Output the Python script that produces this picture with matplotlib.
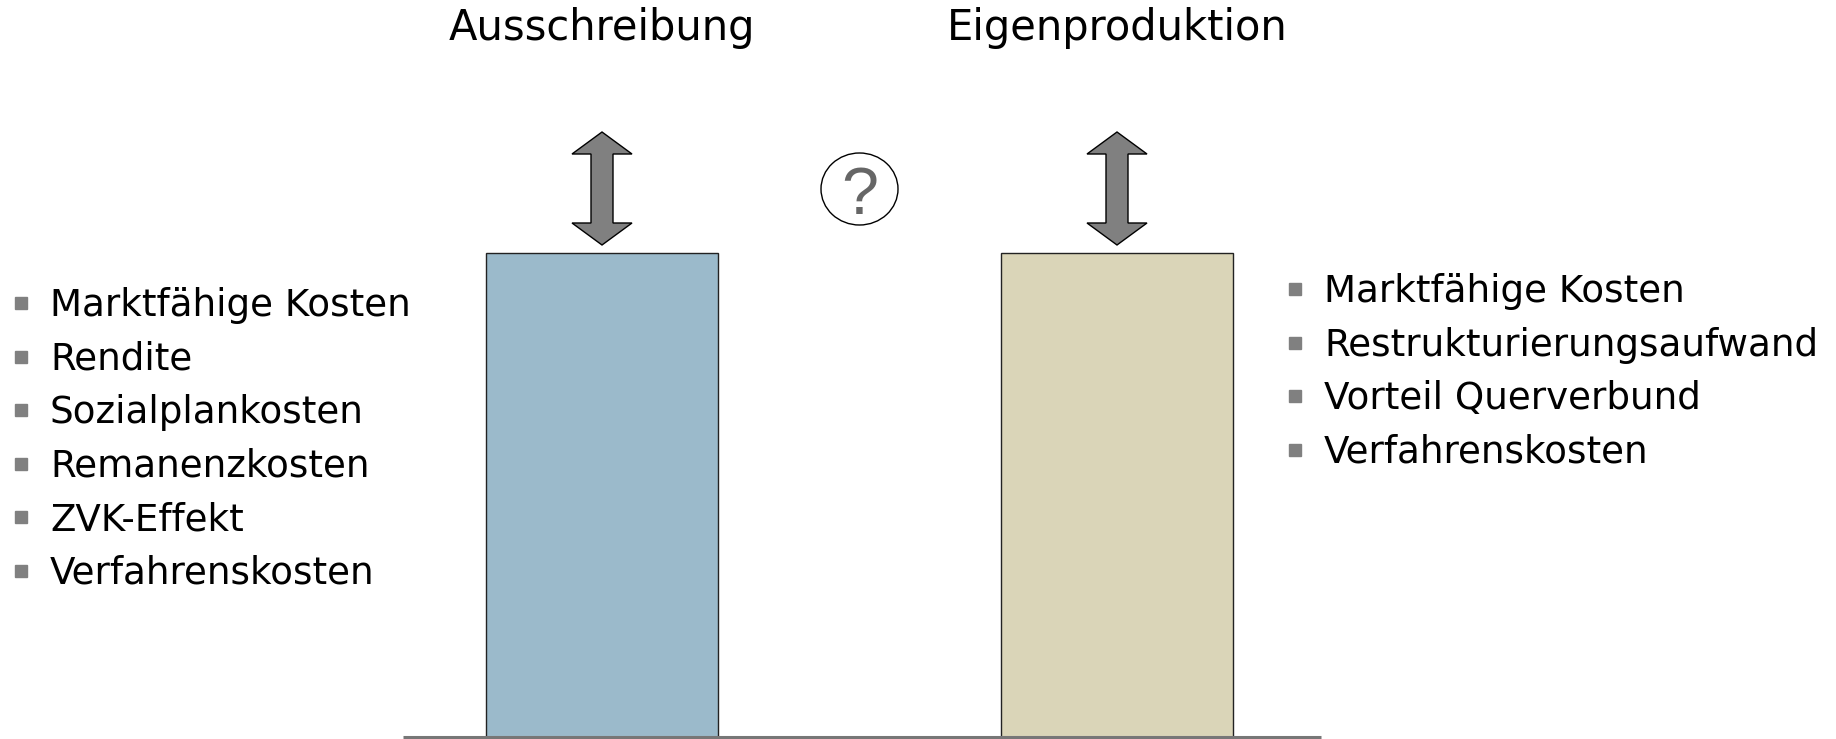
import matplotlib
matplotlib.use("Agg")
import matplotlib.pyplot as plt
from matplotlib.patches import Polygon, Ellipse

# Daten
KATEGORIEN = ["Ausschreibung", "Eigenproduktion"]
WERTE = [1.0, 1.0]
FARBEN = ["#9bbacb", "#dad5b8"]
LINKS_PUNKTE = ["Marktfähige Kosten", "Rendite", "Sozialplankosten",
                "Remanenzkosten", "ZVK-Effekt", "Verfahrenskosten"]
RECHTS_PUNKTE = ["Marktfähige Kosten", "Restrukturierungsaufwand",
                 "Vorteil Querverbund", "Verfahrenskosten"]
FRAGE = "?"

W, H = 1836, 739
fig = plt.figure(figsize=(W / 100, H / 100), dpi=100)
ax = fig.add_axes([0, 0, 1, 1])

# Skalen: 1 x-Einheit = 515 px, 1 y-Einheit = 484 px
PX_X, PX_Y = 515.0, 484.0
x0_px, base_px = 602.0, 2.0
ax.set_xlim(-x0_px / PX_X, (W - x0_px) / PX_X)
ax.set_ylim(-base_px / PX_Y, (H - base_px) / PX_Y)
ax.axis("off")

pos = list(range(len(KATEGORIEN)))
ax.bar(pos, WERTE, width=232 / PX_X, color=FARBEN, edgecolor="#222222",
       linewidth=1.0, zorder=2)

# Grundlinie
ax.hlines(0, pos[0] - 199 / PX_X, pos[-1] + 204 / PX_X, color="#777777",
          linewidth=2.2, zorder=3)


def doppelpfeil(cx, y0, y1):
    hw, sw, hl = 30 / PX_X, 11 / PX_X, 22 / PX_Y
    pts = [(cx, y1), (cx + hw, y1 - hl), (cx + sw, y1 - hl),
           (cx + sw, y0 + hl), (cx + hw, y0 + hl), (cx, y0),
           (cx - hw, y0 + hl), (cx - sw, y0 + hl), (cx - sw, y1 - hl),
           (cx - hw, y1 - hl)]
    ax.add_patch(Polygon(pts, closed=True, facecolor="#808080",
                         edgecolor="black", linewidth=1.0, zorder=4))


for p, v in zip(pos, WERTE):
    doppelpfeil(p, v + 8 / PX_Y, v + 121 / PX_Y)
    ax.text(p, v + 213 / PX_Y, KATEGORIEN[p], ha="center",
            va="baseline", fontsize=30, color="black")

# Fragezeichen im Kreis
qx = (pos[0] + pos[1]) / 2
qy = WERTE[0] + 64 / PX_Y
ax.add_patch(Ellipse((qx, qy), 77 / PX_X, 72 / PX_Y, facecolor="white",
                     edgecolor="black", linewidth=1.0, zorder=4))
ax.text(qx, qy - 25 / PX_Y, FRAGE, ha="center", va="baseline",
        fontsize=48, color="#666666", zorder=5,
        family="Liberation Sans")


def aufzaehlung(liste, bx, tx, y_start, schritt):
    for i, s in enumerate(liste):
        yb = y_start + i * schritt
        fig.text(tx / W, 1 - yb / H, s, ha="left", va="baseline",
                 fontsize=26.8, color="black")
        ax.plot([bx / W], [1 - (yb - 13) / H], marker="s", markersize=8,
                color="#808080", transform=fig.transFigure, clip_on=False)


aufzaehlung(LINKS_PUNKTE, 21, 50, 316, 53.6)
aufzaehlung(RECHTS_PUNKTE, 1295, 1324, 302, 53.5)

fig.savefig("out.png", dpi=100)
